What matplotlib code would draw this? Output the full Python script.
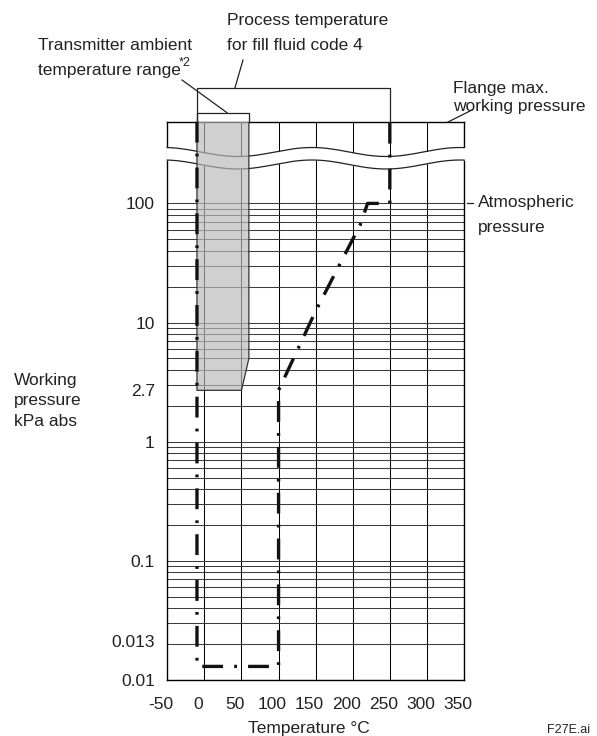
import numpy as np
import matplotlib
matplotlib.use("Agg")
import matplotlib.pyplot as plt
from matplotlib.transforms import ScaledTranslation
from matplotlib.patches import Polygon

plt.rcParams['font.family'] = ['Liberation Sans', 'DejaVu Sans']
plt.rcParams['lines.scale_dashes'] = False

# ---- data ----
x_ticks = [-50, 0, 50, 100, 150, 200, 250, 300, 350]
y_ticks = [0.01, 0.013, 0.1, 1, 2.7, 10, 100]
y_tick_labels = ["0.01", "0.013", "0.1", "1", "2.7", "10", "100"]
y_top = 485.0          # flange max. working pressure zone (top border)

# fill-fluid code 4 working limit (temperature degC, pressure kPa abs)
limit_temp = [-10, -10, 100, 100, 150, 210, 220, 250, 250]
limit_pres = [y_top, 0.013, 0.013, 2.7, 12.5, 66, 100, 100, y_top]

# transmitter ambient temperature range (shaded)
amb_temp = [-10, 60, 60, 50, -10]
amb_pres = [y_top, y_top, 5.0, 2.7, 2.7]

proc_range = [-10, 250]
amb_range = [-10, 60]

FS = 12.5

# ---- figure ----
W, H = 597, 736
fig = plt.figure(figsize=(W / 100, H / 100), dpi=100)
ax_l, ax_r, ax_t, ax_b = 167.3, 464.0, 121.7, 680.0
ax = fig.add_axes([ax_l / W, 1 - ax_b / H, (ax_r - ax_l) / W, (ax_b - ax_t) / H])
ax.set_yscale('log')
ax.set_xlim(-50, 350)
ax.set_ylim(0.01, y_top)

def ya(ypx):
    return (ax_b - ypx) / (ax_b - ax_t)

def fx(xpx):
    return xpx / W

def fy(ypx):
    return 1 - ypx / H

for s in ax.spines.values():
    s.set_linewidth(1.0)
    s.set_color('black')

# vertical grid
ax.set_xticks(x_ticks)
ax.set_xticklabels([str(v) for v in x_ticks])
for v in x_ticks[1:]:
    ax.axvline(v, color='black', lw=0.75, zorder=1)

# horizontal log grid 0.01 .. 100
grid_vals = []
for dec in [0.01, 0.1, 1, 10]:
    for k in range(1, 10):
        grid_vals.append(k * dec)
grid_vals.append(100)
for v in grid_vals:
    ax.axhline(v, color='#3c3c3c', lw=0.75, zorder=1)

ax.yaxis.set_minor_locator(matplotlib.ticker.NullLocator())
ax.set_yticks(y_ticks)
ax.set_yticklabels(y_tick_labels)
ax.tick_params(axis='both', length=0, labelsize=FS, colors='#222222')
ax.tick_params(axis='y', pad=9)
ax.tick_params(axis='x', pad=12)
for lab in ax.get_xticklabels():
    lab.set_transform(lab.get_transform() + ScaledTranslation(-6 / 100, 0, fig.dpi_scale_trans))
for lab in ax.get_yticklabels():
    if lab.get_text() == "0.013":
        lab.set_transform(lab.get_transform() + ScaledTranslation(0, 25 / 100, fig.dpi_scale_trans))

# break band (white) with waves
xw = np.linspace(-50, 350, 400)
phase = 2 * np.pi * (xw - 45) / 200.0
amp = 4.5 / (ax_b - ax_t)
up = ya(152) - amp * np.cos(phase)
lo = ya(164.5) - amp * np.cos(phase)
trans = ax.get_xaxis_transform()
xwe = np.concatenate([[-52], xw, [352]])
ax.fill_between(xwe, np.concatenate([[lo[0]], lo, [lo[-1]]]),
                np.concatenate([[up[0]], up, [up[-1]]]),
                transform=trans, color='white', zorder=3, clip_on=False, lw=0)
ax.plot(xw, up, transform=trans, color='#222222', lw=0.9, zorder=4, clip_on=False)
ax.plot(xw, lo, transform=trans, color='#222222', lw=0.9, zorder=4, clip_on=False)

# ambient shaded region
poly = Polygon(list(zip(amb_temp, amb_pres)), closed=True, facecolor=(0.73, 0.73, 0.73),
               alpha=0.68, edgecolor='none', zorder=5)
ax.add_patch(poly)
ax.plot(amb_temp[1:] + [amb_temp[0]], amb_pres[1:] + [amb_pres[0]], color='#333333', lw=0.9, zorder=5)

# limit line (dash-dot)
ax.plot(limit_temp, limit_pres, color='#111111', lw=2.4, dashes=(15, 8, 2.0, 8),
        zorder=6, clip_on=False, solid_capstyle='butt', dash_capstyle='butt')

# brackets above the plot
ax.plot([proc_range[0], proc_range[0], proc_range[1], proc_range[1]],
        [ya(122), ya(87.7), ya(87.7), ya(122)], transform=trans,
        color='#222222', lw=0.9, clip_on=False, zorder=6)
ax.plot([amb_range[0], amb_range[0], amb_range[1], amb_range[1]],
        [ya(122), ya(112.7), ya(112.7), ya(122)], transform=trans,
        color='#222222', lw=0.9, clip_on=False, zorder=6)

# leader lines (figure pixel coordinates)
def leader(x0, y0, x1, y1):
    fig.add_artist(plt.Line2D([fx(x0), fx(x1)], [fy(y0), fy(y1)], color='#222222', lw=0.9))

leader(182, 80, 227, 112.7)
leader(243, 60, 235, 87.7)
leader(472, 110, 448, 122)
leader(467, 203, 473, 203)

tc = '#222222'
def label(x, y, s, size=FS, ha='left'):
    fig.text(fx(x), fy(y), s, ha=ha, va='center', fontsize=size, color=tc)

label(227, 20, "Process temperature")
label(227, 45, "for fill fluid code 4")
label(38, 45, "Transmitter ambient")
label(38, 71, "temperature range")
label(179, 63, "*2", size=9)
label(453, 88, "Flange max.")
label(453, 106, "working pressure")
label(478, 202, "Atmospheric")
label(478, 228, "pressure")
label(14, 380, "Working")
label(14, 401, "pressure")
label(14, 421, "kPa abs")
label(309, 728, "Temperature °C", ha='center')
label(590, 730, "F27E.ai", size=9, ha='right')

fig.savefig("out.png", dpi=100)
